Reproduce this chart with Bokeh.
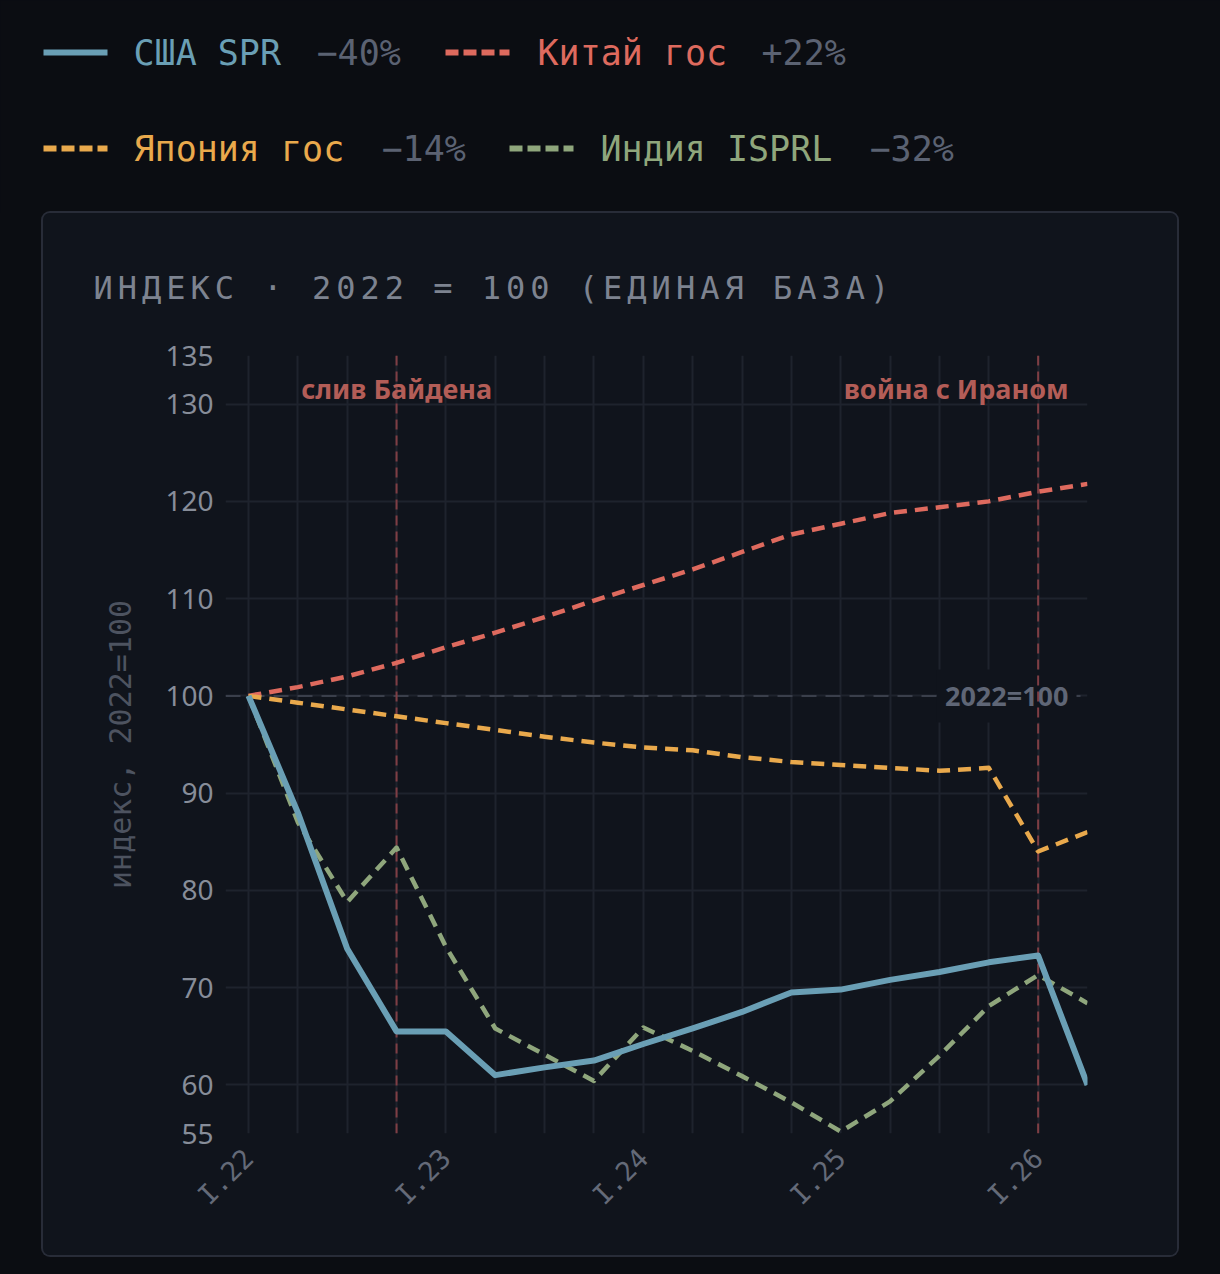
import math
from bokeh.plotting import figure
from bokeh.layouts import column, row
from bokeh.models import Range1d, FixedTicker, Span, Label, Spacer
from bokeh.core.properties import value
from bokeh.embed import file_html
from bokeh.resources import INLINE

# ---------------- data ----------------
quarters = [2022.0, 2022.25, 2022.5, 2022.75, 2023.0, 2023.25, 2023.5, 2023.75,
            2024.0, 2024.25, 2024.5, 2024.75, 2025.0, 2025.25, 2025.5, 2025.75,
            2026.0, 2026.25]
usa_spr = [100, 88.0, 74.0, 65.5, 65.5, 61.0, 61.8, 62.5, 64.2, 65.8, 67.5, 69.5,
           69.8, 70.8, 71.6, 72.6, 73.3, 60.0]
china = [100, 100.9, 102.0, 103.4, 105.0, 106.5, 108.1, 109.8, 111.4, 113.0, 114.8,
         116.6, 117.7, 118.8, 119.4, 120.0, 121.0, 121.8]
japan = [100, 99.3, 98.6, 97.9, 97.2, 96.5, 95.8, 95.2, 94.7, 94.4, 93.7, 93.2,
         92.9, 92.6, 92.3, 92.6, 84.0, 86.0]
india = [100, 87.0, 78.8, 84.4, 74.2, 65.8, 63.1, 60.4, 65.9, 63.5, 60.9, 58.2,
         55.2, 58.3, 63.0, 68.1, 71.3, 68.4]

series_names = ["США SPR", "Китай гос", "Япония гос", "Индия ISPRL"]
series_changes = ["\u221240%", "+22%", "\u221214%", "\u221232%"]

y_ticks = [55, 60, 70, 80, 90, 100, 110, 120, 130, 135]
x_ticks = [2022, 2023, 2024, 2025, 2026]
x_tick_labels = ["I.22", "I.23", "I.24", "I.25", "I.26"]

event_x = [2022.75, 2026.0]
event_labels = ["слив Байдена", "война с Ираном"]

base_value = 100
base_label = "2022=100"
title_text = "ИНДЕКС · 2022 = 100 (ЕДИНАЯ БАЗА)"
y_axis_title = "индекс, 2022=100"

# ---------------- styles ----------------
OUTER = "#0b0d12"
PANEL = "#10141c"
PANEL_BORDER = "#282c38"
GRID = "#1e232d"
C_US = "#6a9fb5"
C_CN = "#de6a5e"
C_JP = "#e9a94c"
C_IN = "#8fa67c"
C_PCT = "#5b6272"
C_EVENT = "#7f3e44"
C_EVENT_TXT = "#b35d57"
colors = [C_US, C_CN, C_JP, C_IN]

MONO = "DejaVu Sans Mono"
SANS = "Noto Sans"

PAGE_W = 1220
# panel box (page px)
PL, PR, PT, PB = 43, 1177, 213, 1255
PW, PH = PR - PL, PB - PT
TH = 100                     # height of the title strip inside the panel
# frame (page px)
FL, FR, FT, FB = 225, 1087, 355, 1133
X0_PX = 248                  # page px of 2022.0
XMAX = 2026.25
ppy = (FR - X0_PX) / (XMAX - 2022.0)
x_start = 2022.0 - (X0_PX - FL) / ppy
y_lo, y_hi = 55, 135
ppu = (FB - FT) / (y_hi - y_lo)


def X(px):
    return 2022.0 + (px - X0_PX) / ppy


def Y(py):
    return y_hi - (py - FT) / ppu


def no_align(f):
    try:
        f.frame_align = False
    except Exception:
        pass


def strip(width, height, bg):
    f = figure(width=width, height=height, output_backend="svg", toolbar_location=None,
               x_range=Range1d(0, width), y_range=Range1d(height, 0),
               x_axis_type=None, y_axis_type=None,
               min_border=0, min_border_left=0, min_border_right=0,
               min_border_top=0, min_border_bottom=0)
    f.background_fill_color = bg
    f.border_fill_color = bg
    f.outline_line_color = None
    f.grid.visible = False
    no_align(f)
    return f


# ---------------- legend strip (top) ----------------
lg = strip(PAGE_W, PT, OUTER)
row_y = [52, 52, 148, 148]
sample_x = [43, 445, 43, 509]
name_x = [133, 537, 133, 600]
pct_x = [316, 761, 381, 869]
dashes = ["solid", "13 5", "13 5", "13 5"]
for i in range(4):
    lg.line([sample_x[i], sample_x[i] + 64], [row_y[i], row_y[i]], line_color=colors[i],
            line_width=6, line_dash=dashes[i])
    lg.text(x=[name_x[i]], y=[row_y[i]], text=[series_names[i]],
            text_font=value(MONO), text_font_size=value("35px"),
            text_baseline="middle", text_align="left", text_color=colors[i])
    lg.text(x=[pct_x[i]], y=[row_y[i]], text=[series_changes[i]],
            text_font=value(MONO), text_font_size=value("35px"),
            text_baseline="middle", text_align="left", text_color=C_PCT)

# ---------------- title strip (inside panel, letter-spaced) ----------------
tt = strip(PW, TH, PANEL)
tt.styles = {"letter-spacing": "5px"}
tt.text(x=[93 - PL], y=[287 - PT], text=[title_text], text_font=value(MONO),
        text_font_size=value("32px"), text_baseline="middle", text_align="left",
        text_color="#7d8390")

# ---------------- main chart ----------------
top0 = PT + TH
p = figure(width=PW, height=PH - TH, output_backend="svg", toolbar_location=None,
           x_range=Range1d(x_start, XMAX), y_range=Range1d(y_lo, y_hi),
           min_border_left=FL - PL, min_border_right=PR - FR,
           min_border_top=FT - top0, min_border_bottom=PB - FB)
no_align(p)
p.background_fill_color = PANEL
p.border_fill_color = PANEL
p.outline_line_color = None

p.xaxis.ticker = FixedTicker(ticks=x_ticks)
p.xaxis.major_label_overrides = {k: v for k, v in zip(x_ticks, x_tick_labels)}
p.xaxis.major_label_orientation = math.pi / 4
p.xaxis.major_label_text_font = MONO
p.xaxis.major_label_text_font_size = "27px"
p.xaxis.major_label_text_color = "#646a78"
p.xaxis.major_label_standoff = 14
p.xaxis.axis_line_color = None
p.xaxis.major_tick_line_color = None
p.xaxis.minor_tick_line_color = None

p.yaxis.ticker = FixedTicker(ticks=y_ticks)
p.yaxis.major_label_text_font = SANS
p.yaxis.major_label_text_font_size = "28px"
p.yaxis.major_label_text_color = "#878d99"
p.yaxis.major_label_standoff = 12
p.yaxis.major_tick_out = 0
p.yaxis.axis_line_color = None
p.yaxis.major_tick_line_color = None
p.yaxis.minor_tick_line_color = None
p.yaxis.axis_label = y_axis_title
p.yaxis.axis_label_text_font = MONO
p.yaxis.axis_label_text_font_size = "30px"
p.yaxis.axis_label_text_font_style = "normal"
p.yaxis.axis_label_text_color = "#4d5360"
p.yaxis.axis_label_standoff = 24

p.xgrid.ticker = FixedTicker(ticks=quarters)
p.ygrid.ticker = FixedTicker(ticks=y_ticks)
for g in (p.xgrid, p.ygrid):
    g.grid_line_color = GRID
    g.grid_line_width = 2

# baseline 100 + label
p.add_layout(Span(location=base_value, dimension="width", line_color="#3a3f4b",
                  line_width=2, line_dash="15 9", level="underlay"))
p.add_layout(Label(x=X(1068 + 8), y=base_value, text=base_label, text_align="right",
                   text_baseline="middle", text_font=SANS, text_font_size="27px",
                   text_font_style="bold", text_color="#5f6676",
                   background_fill_color=PANEL, padding=8, level="underlay"))

# event lines
for ex in event_x:
    p.add_layout(Span(location=ex, dimension="height", line_color=C_EVENT,
                      line_width=2, line_dash="10 6", level="underlay"))

# series
p.line(quarters, china, line_color=C_CN, line_width=4.5, line_dash="13 8", line_join="round")
p.line(quarters, japan, line_color=C_JP, line_width=4.5, line_dash="13 8", line_join="round")
p.line(quarters, india, line_color=C_IN, line_width=4.5, line_dash="13 8", line_join="round")
p.line(quarters, usa_spr, line_color=C_US, line_width=6, line_join="round")

# event labels
p.add_layout(Label(x=event_x[0], y=Y(388), text=event_labels[0], text_align="center",
                   text_baseline="middle", text_font=SANS, text_font_size="27px",
                   text_font_style="bold", text_color=C_EVENT_TXT))
p.add_layout(Label(x=X(1068), y=Y(388), text=event_labels[1], text_align="right",
                   text_baseline="middle", text_font=SANS, text_font_size="27px",
                   text_font_style="bold", text_color=C_EVENT_TXT))

panel = column(row(tt), p, styles={"border-radius": "7px", "overflow": "hidden",
                                   "background-color": PANEL,
                                   "box-shadow": "0 0 0 2px " + PANEL_BORDER})
layout = column(lg, row(Spacer(width=PL, height=PH), panel))

html = file_html(layout, INLINE)
html = html.replace("</head>", "<style>html,body{background:%s;}</style></head>" % OUTER, 1)
open("out.html", "w").write(html)
